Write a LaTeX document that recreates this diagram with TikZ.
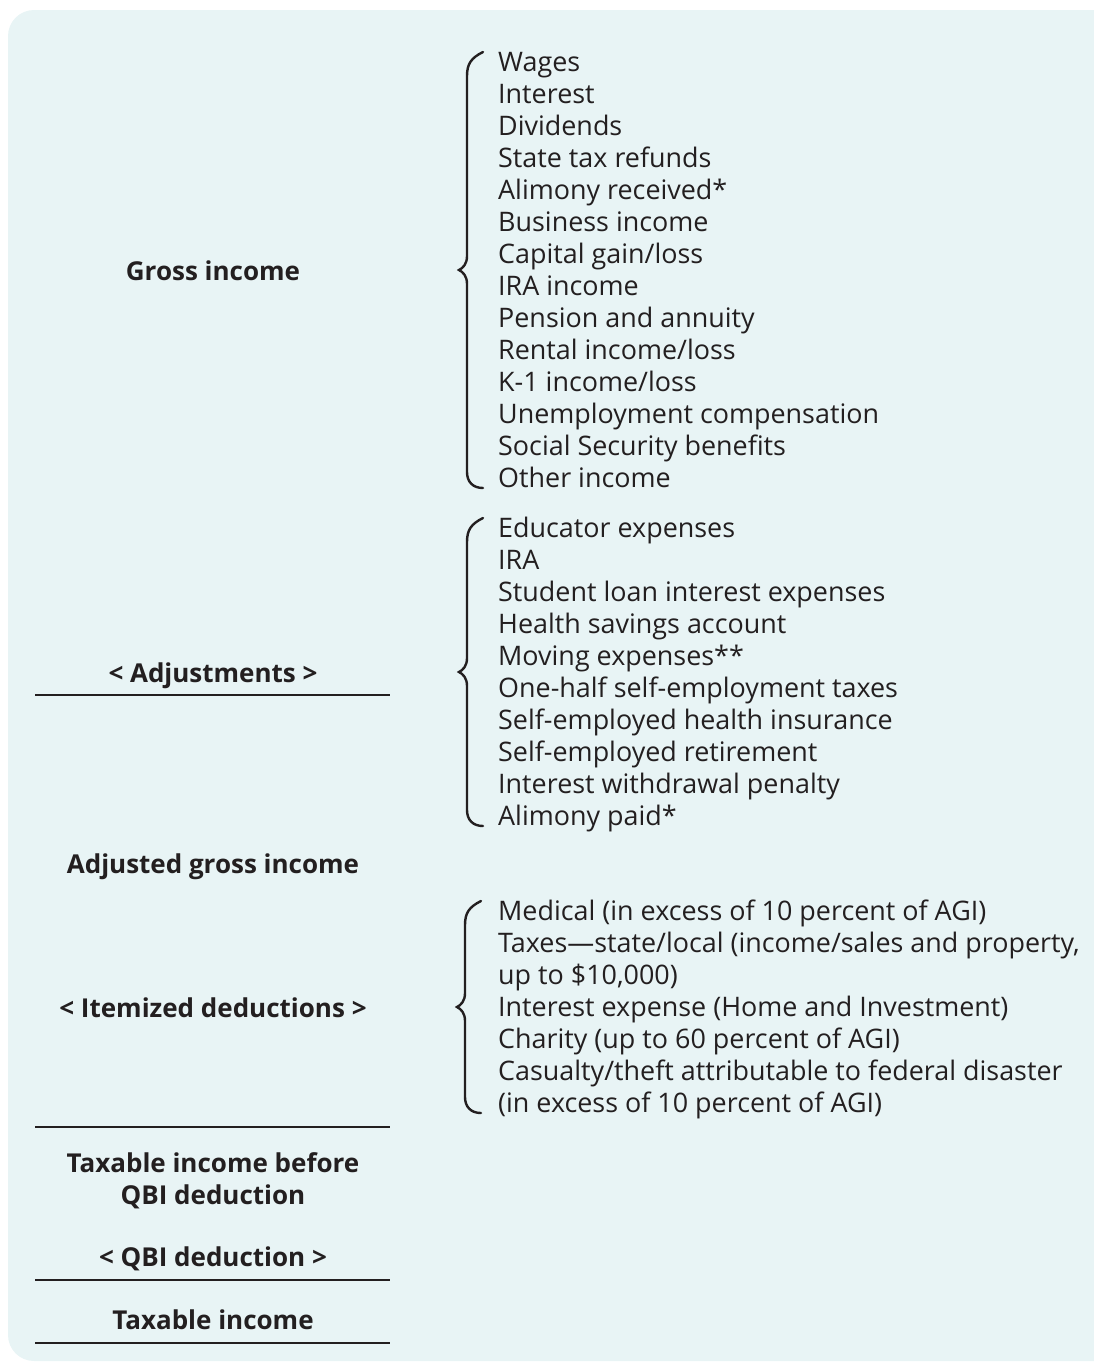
\documentclass[tikz,border=0pt]{standalone}
\usepackage{fontspec}
\setmainfont{Open Sans}
\definecolor{bgc}{RGB}{232,244,245}
\definecolor{ink}{RGB}{35,31,32}
\begin{document}
\begin{tikzpicture}[x=1pt,y=-1pt,
  item/.style={anchor=base west,inner sep=0pt,text=ink,font=\fontsize{26.9}{32}\selectfont},
  lbl/.style={anchor=base,inner sep=0pt,text=ink,font=\fontsize{26}{32}\selectfont\bfseries,align=center},
  rule/.style={draw=ink,line width=2.6pt},
  brc/.style={draw=ink,line width=2.4pt,line cap=round}]
\useasboundingbox (0,0) rectangle (1093,1363);
\fill[bgc,rounded corners=26pt] (8,10) rectangle (1120,1361);
% left labels
\node[lbl] (gross) at (213,280) {Gross income};
\node[lbl] (adj) at (213,682) {< Adjustments >};
\node[lbl] (agi) at (213,873) {Adjusted gross income};
\node[lbl] (itm) at (213,1017) {< Itemized deductions >};
\node[lbl] (tibq1) at (213,1172) {Taxable income before};
\node[lbl] (tibq2) at (213,1204) {QBI deduction};
\node[lbl] (qbi) at (213,1266) {< QBI deduction >};
\node[lbl] (ti) at (213,1329) {Taxable income};
% rules
\coordinate (r1a) at (35,695); \coordinate (r1b) at (390,695);
\coordinate (r2a) at (35,1127); \coordinate (r2b) at (390,1127);
\coordinate (r3a) at (35,1280); \coordinate (r3b) at (390,1280);
\coordinate (r4a) at (35,1343); \coordinate (r4b) at (390,1343);
\draw[rule] (r1a) -- (r1b);
\draw[rule] (r2a) -- (r2b);
\draw[rule] (r3a) -- (r3b);
\draw[rule] (r4a) -- (r4b);
% income list
\foreach \t [count=\i from 0] in {Wages,Interest,Dividends,State tax refunds,Alimony received*,Business income,Capital gain/loss,IRA income,Pension and annuity,Rental income/loss,K-1 income/loss,Unemployment compensation,Social Security benefits,Other income}
  \node[item] (inc\i) at (498,{71+32*\i}) {\t};
% adjustments list
\foreach \t [count=\i from 0] in {Educator expenses,IRA,Student loan interest expenses,Health savings account,Moving expenses**,One-half self-employment taxes,Self-employed health insurance,Self-employed retirement,Interest withdrawal penalty,Alimony paid*}
  \node[item] (adj\i) at (498,{537+32*\i}) {\t};
% itemized list
\node[item] (it0) at (498,920) {Medical (in excess of 10 percent of AGI)};
\node[item] (it1) at (498,952) {Taxes—state/local (income/sales and property,};
\node[item] (it2) at (498,984) {up to \$10,000)};
\node[item] (it3) at (498,1016) {Interest expense (Home and Investment)};
\node[item] (it4) at (498,1048) {Charity (up to 60 percent of AGI)};
\node[item] (it5) at (498,1080) {Casualty/theft attributable to federal disaster};
\node[item] (it6) at (498,1112) {(in excess of 10 percent of AGI)};
% braces
\newcommand{\mybrace}[4]{% x-vertical, top, mid, bottom
  \draw[brc] (#1+16,#2) .. controls (#1+4,#2+6) and (#1,#2+12) .. (#1,#2+24)
    -- (#1,#3-14) .. controls (#1,#3-6) and (#1-4,#3-2) .. (#1-8,#3)
    .. controls (#1-4,#3+2) and (#1,#3+6) .. (#1,#3+14)
    -- (#1,#4-16) .. controls (#1,#4-6) and (#1+6,#4) .. (#1+16,#4);}
\mybrace{467}{52}{270}{488}
\mybrace{467}{518}{672}{826}
\mybrace{465}{901}{1007}{1113}
\end{tikzpicture}
\end{document}
